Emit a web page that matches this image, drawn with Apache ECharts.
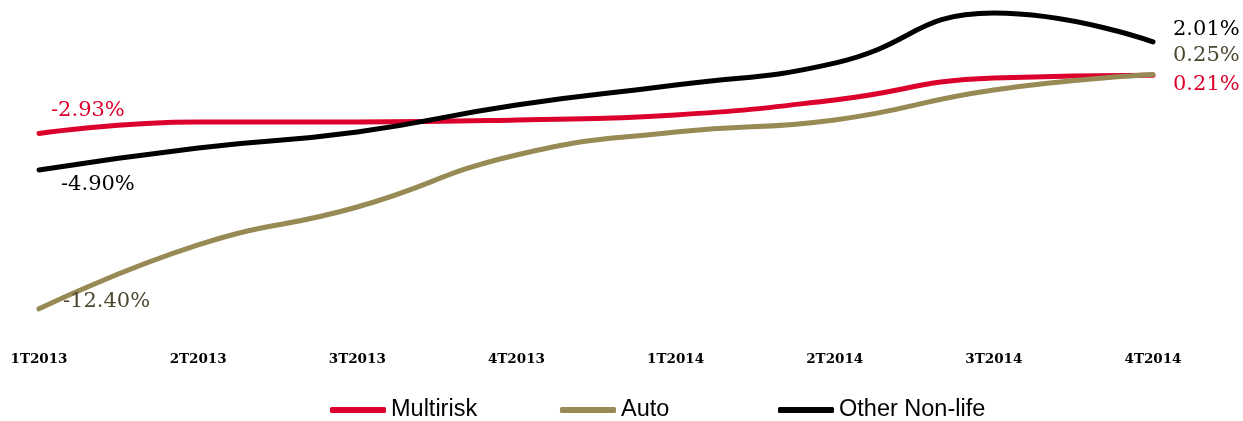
<!DOCTYPE html>
<html>
<head>
<meta charset="utf-8">
<script src="https://cdn.jsdelivr.net/npm/echarts@6/dist/echarts.min.js"></script>
<style>
  html, body { margin: 0; padding: 0; background: #fff; }
  #chart { width: 1243px; height: 421px; }
</style>
</head>
<body>
<div id="chart"></div>
<script>
// quarters and growth rates (%)
const quarters = ['1T2013', '2T2013', '3T2013', '4T2013', '1T2014', '2T2014', '3T2014', '4T2014']
const multirisk = [-2.93, -2.31, -2.31, -2.20, -1.93, -1.12, 0.06, 0.21]
const auto = [-12.40, -8.95, -6.90, -4.09, -2.85, -2.20, -0.58, 0.25]
const otherNonLife = [-4.90, -3.71, -2.85, -1.39, -0.31, 0.87, 3.57, 2.01]

const RED = '#dc002c'
const OLIVE = '#978a55'
const OLIVE_TXT = '#4d4830'
const BLACK = '#000000'

// only first and last points carry a label
function withLabels(values, color, firstOffset, lastOffset) {
  return values.map((v, i) => {
    if (i !== 0 && i !== values.length - 1) return v
    return {
      value: v,
      label: {
        show: true,
        position: 'right',
        distance: 0,
        offset: i === 0 ? firstOffset : lastOffset,
        color: color,
        fontFamily: 'DejaVu Serif',
        fontSize: 21,
        formatter: p => p.value.toFixed(2) + '%'
      }
    }
  })
}

function lineSeries(name, values, color, labelColor, firstOffset, lastOffset) {
  return {
    name: name,
    type: 'line',
    smooth: true,
    symbol: 'circle',
    symbolSize: 0,
    showSymbol: true,
    color: color,
    lineStyle: { color: color, width: 5, cap: 'round' },
    itemStyle: { color: color },
    emphasis: { disabled: true },
    animation: false,
    data: withLabels(values, labelColor, firstOffset, lastOffset)
  }
}

const chart = echarts.init(document.getElementById('chart'))

const legendBase = {
  top: 393,
  icon: 'roundRect',
  itemWidth: 56,
  itemHeight: 6,
  textStyle: { fontFamily: 'Liberation Sans', fontSize: 23.5, color: '#000' }
}

chart.setOption({
  backgroundColor: '#fff',
  grid: { left: 39, right: 90, top: 5.1, bottom: 82.5 },
  legend: [
    Object.assign({ left: 325, data: ['Multirisk'] }, legendBase),
    Object.assign({ left: 555, data: ['Auto'] }, legendBase),
    Object.assign({ left: 773, data: ['Other Non-life'] }, legendBase)
  ],
  xAxis: {
    type: 'category',
    data: quarters,
    boundaryGap: false,
    axisLine: { show: false },
    axisTick: { show: false },
    splitLine: { show: false },
    axisLabel: {
      interval: 0,
      margin: 14,
      fontFamily: 'DejaVu Serif',
      fontWeight: 'bold',
      fontSize: 13.5,
      color: '#000'
    }
  },
  yAxis: {
    type: 'value',
    min: -14,
    max: 4,
    show: false,
    splitLine: { show: false }
  },
  series: [
    lineSeries('Multirisk', multirisk, RED, RED, [12, -23], [20, 9]),
    lineSeries('Auto', auto, OLIVE, OLIVE_TXT, [24, -7], [20, -19]),
    lineSeries('Other Non-life', otherNonLife, BLACK, BLACK, [22, 15], [20, -12])
  ]
})
</script>
</body>
</html>
